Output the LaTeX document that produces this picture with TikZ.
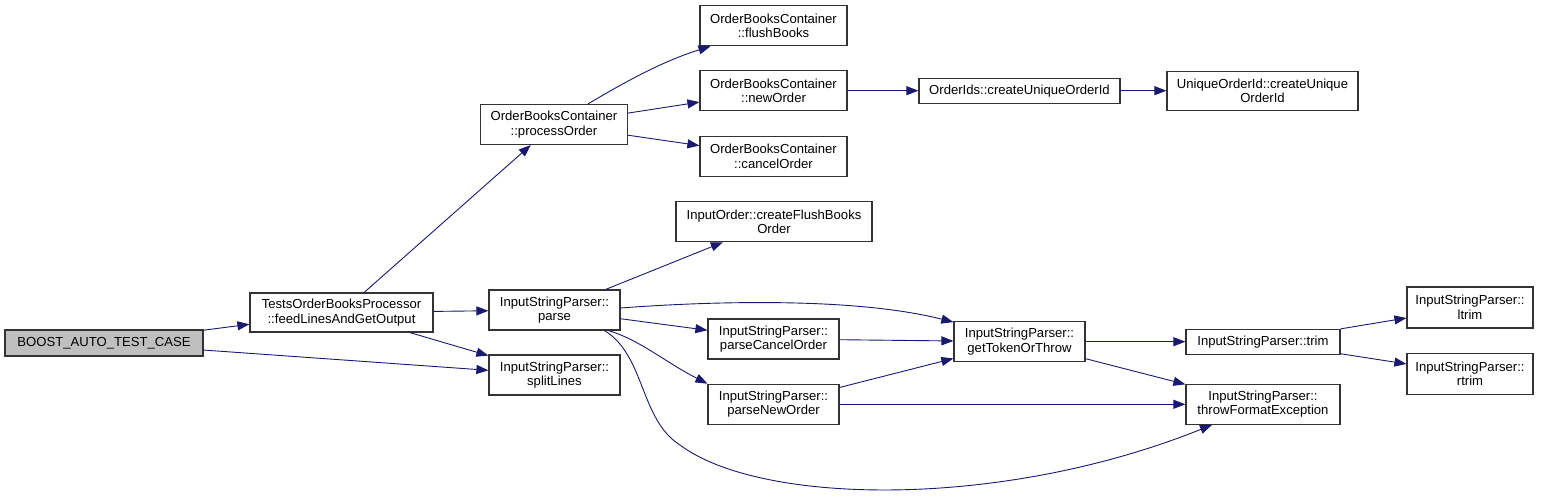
\documentclass[tikz,border=0pt]{standalone}
\usepackage{fontspec}
\setmainfont{Liberation Sans}
\usetikzlibrary{arrows.meta}
\definecolor{edgeblue}{HTML}{191970}
\definecolor{boxline}{HTML}{333333}
\definecolor{rootfill}{HTML}{BFBFBF}
\tikzset{
  fn/.style={draw=boxline, line width=1.2pt, fill=white, inner sep=0pt, align=center,
    font=\fontsize{13.1}{14.5}\selectfont, minimum height=40pt},
  oneline/.style={minimum height=25pt},
  call/.style={draw=edgeblue, line width=0.9pt, -{Triangle[length=12pt,width=9pt]}}
}
\begin{document}
\begin{tikzpicture}[x=1pt,y=1pt]
\path[use as bounding box, fill=white] (0,0) rectangle (1543,497);
% nodes
\node[fn, fill=rootfill, oneline, minimum width=198pt, minimum height=26pt] (boost) at (104,154) {BOOST\_AUTO\_TEST\_CASE};
\node[fn, minimum width=183pt, minimum height=39pt] (feed) at (341.5,184.5) {TestsOrderBooksProcessor\\::feedLinesAndGetOutput};
\node[fn, minimum width=147pt] (proc) at (554,372.5) {OrderBooksContainer\\::processOrder};
\node[fn, minimum width=147pt] (flush) at (773.5,471.3) {OrderBooksContainer\\::flushBooks};
\node[fn, minimum width=147pt] (newo) at (773.5,406.3) {OrderBooksContainer\\::newOrder};
\node[fn, minimum width=147pt] (cancel) at (773.5,340.7) {OrderBooksContainer\\::cancelOrder};
\node[fn, oneline, minimum width=201pt] (oids) at (1019.5,406.3) {OrderIds::createUniqueOrderId};
\node[fn, minimum width=191pt, minimum height=39pt] (uniq) at (1262.5,406.3) {UniqueOrderId::createUnique\\OrderId};
\node[fn, minimum width=196pt] (cfbo) at (774,275.3) {InputOrder::createFlushBooks\\Order};
\node[fn, minimum width=131pt] (parse) at (554.5,187) {InputStringParser::\\parse};
\node[fn, minimum width=131pt] (split) at (554.5,122) {InputStringParser::\\splitLines};
\node[fn, minimum width=131pt] (pco) at (773.5,158) {InputStringParser::\\parseCancelOrder};
\node[fn, minimum width=131pt] (pno) at (773.5,92.7) {InputStringParser::\\parseNewOrder};
\node[fn, minimum width=131pt] (gtot) at (1019.5,155.3) {InputStringParser::\\getTokenOrThrow};
\node[fn, oneline, minimum width=154pt] (trim) at (1263,155.3) {InputStringParser::trim};
\node[fn, minimum width=154pt] (tfe) at (1263,92.7) {InputStringParser::\\throwFormatException};
\node[fn, minimum width=126pt, minimum height=41pt] (ltrim) at (1470,189.5) {InputStringParser::\\ltrim};
\node[fn, minimum width=126pt, minimum height=41pt] (rtrim) at (1470,123.2) {InputStringParser::\\rtrim};
\coordinate (bend) at (680,52);
% edges
\draw[call] (boost) -- (feed);
\draw[call] (boost) -- (split);
\draw[call] (feed) -- (proc);
\draw[call] (feed) -- (parse);
\draw[call] (feed) -- (split);
\draw[call] ([xshift=34pt]proc.north) .. controls (620,412) and (660,435) .. ([xshift=-63pt]flush.south);
\draw[call] (proc) -- (newo);
\draw[call] (proc) -- (cancel);
\draw[call] (newo) -- (oids);
\draw[call] (oids) -- (uniq);
\draw[call] (parse) -- (cfbo);
\draw[call] ([yshift=2pt]parse.east) .. controls (700,195) and (850,201) .. ([yshift=-1pt]gtot.north west);
\draw[call] (parse) -- (pco);
\draw[call] ([xshift=54pt]parse.south) .. controls (640,157) and (665,135) .. (pno.north west);
\draw[call] ([xshift=50pt]parse.south) .. controls (645,142) and (640,77) .. (bend) .. controls (760,-8) and (1000,-13) .. ([xshift=-51pt]tfe.south);
\draw[call] (pco) -- (gtot);
\draw[call] (pno) -- (gtot);
\draw[call] (pno) -- (tfe);
\draw[call] (gtot) -- (trim);
\draw[call] (gtot) -- (tfe);
\draw[call] (trim) -- (ltrim);
\draw[call] (trim) -- (rtrim);
\end{tikzpicture}
\end{document}
